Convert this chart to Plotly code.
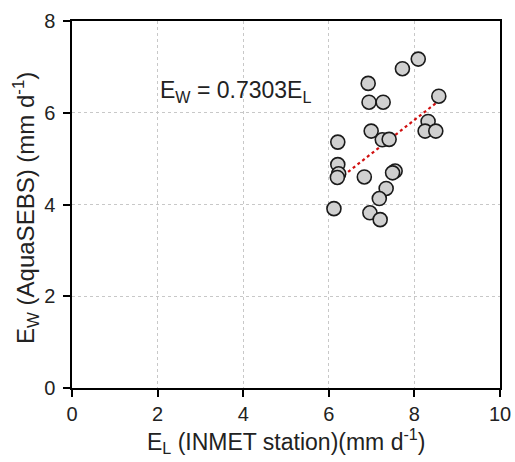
import plotly.graph_objects as go

el = [8.09, 7.72, 6.92, 8.57, 6.94, 7.27, 8.32, 8.25, 8.50, 6.99, 7.25, 7.41,
      6.21, 6.21, 6.23, 6.20, 6.83, 7.55, 7.49, 7.34, 7.18, 6.12, 6.96, 7.20]
ew = [7.17, 6.96, 6.64, 6.36, 6.23, 6.23, 5.81, 5.60, 5.60, 5.60, 5.41, 5.42,
      5.36, 4.87, 4.67, 4.59, 4.60, 4.73, 4.69, 4.35, 4.13, 3.91, 3.82, 3.67]
slope = 0.7303
x_ticks = [0, 2, 4, 6, 8, 10]
y_ticks = [0, 2, 4, 6, 8]

fx = [min(el), max(el)]
fy = [slope * v for v in fx]

font = "Liberation Sans, Arial, sans-serif"
fig = go.Figure()
fig.add_trace(go.Scatter(x=fx, y=fy, mode="lines",
                         line=dict(color="#d01010", width=2.2, dash="dot"),
                         showlegend=False, hoverinfo="skip"))
fig.add_trace(go.Scatter(x=el, y=ew, mode="markers",
                         marker=dict(size=14, color="#d0d0d0",
                                     line=dict(color="#1a1a1a", width=1.6)),
                         showlegend=False))

fig.add_annotation(x=2.0, y=6.47, xref="x", yref="y", xanchor="left", yanchor="middle",
                   text="E<sub>W</sub> = 0.7303E<sub>L</sub>", showarrow=False,
                   font=dict(size=23, color="#222", family=font))

# axis titles
fig.add_annotation(x=0.5, y=-0.145, xref="paper", yref="paper", xanchor="center", yanchor="middle",
                   text="E<sub>L</sub> (INMET station)(mm d<sup>-1</sup>)", showarrow=False,
                   font=dict(size=23, color="#222", family=font))
fig.add_annotation(x=-0.108, y=0.49, xref="paper", yref="paper", xanchor="center", yanchor="middle",
                   textangle=-90,
                   text="E<sub>W</sub> (AquaSEBS) (mm d<sup>-1</sup>)", showarrow=False,
                   font=dict(size=24, color="#222", family=font))

axis_common = dict(showline=True, linecolor="black", linewidth=1.5, mirror=True,
                   ticks="outside", ticklen=7, tickwidth=1.5, tickcolor="black",
                   showgrid=True, gridcolor="#c8c8c8", gridwidth=1, griddash="dot",
                   zeroline=False, automargin=False,
                   tickfont=dict(size=20, color="#222", family=font))

fig.update_xaxes(range=[0, 10], tickvals=x_ticks, **axis_common)
fig.update_yaxes(range=[0, 8], tickvals=y_ticks, ticklabelstandoff=4, **axis_common)

fig.update_layout(width=515, height=462, margin=dict(l=72, r=15, t=21, b=74),
                  plot_bgcolor="white", paper_bgcolor="white")
fig.write_html("out.html")
